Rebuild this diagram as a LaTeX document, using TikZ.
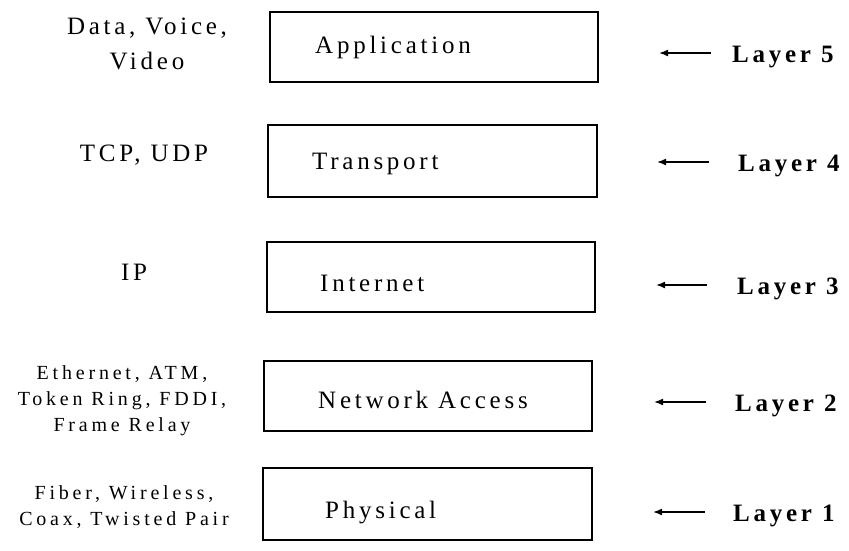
\documentclass[tikz,border=0pt]{standalone}
\usepackage{fontspec}
\setmainfont{Liberation Serif}
\newfontfamily\spaced[LetterSpace=15]{Liberation Serif}
\newfontfamily\spacedsmall[LetterSpace=19]{Liberation Serif}
\usetikzlibrary{arrows.meta}
\begin{document}
\begin{tikzpicture}[x=1pt,y=-1pt,
  layerbox/.style={draw, line width=1.8pt, minimum width=328pt, minimum height=70pt, inner sep=0pt},
  boxtext/.style={anchor=base west, inner sep=0pt, font=\spaced\fontsize{25}{28}\selectfont},
  protobig/.style={align=center, inner sep=0pt, font=\spaced\fontsize{25}{35}\selectfont},
  protosmall/.style={align=center, inner sep=0pt, font=\spacedsmall\fontsize{20}{26}\selectfont},
  layertag/.style={anchor=base west, inner sep=0pt, font=\spaced\bfseries\fontsize{25}{28}\selectfont},
  pointer/.style={line width=1.6pt, -{Latex[length=9pt,width=7pt]}}
]
\useasboundingbox (0,0) rectangle (849,550);

% protocol stack boxes
\node[layerbox] (app)  at (434,47)    {};
\node[layerbox, minimum width=329pt, minimum height=72pt] (trans) at (432.5,161) {};
\node[layerbox] (inet) at (431,277)   {};
\node[layerbox] (net)  at (428,396)   {};
\node[layerbox, minimum width=329pt, minimum height=72pt] (phys) at (427.5,504) {};

% layer names inside the boxes
\node[boxtext] (appT)   at (315,53)  {Application};
\node[boxtext] (transT) at (312,169) {Transport};
\node[boxtext] (inetT)  at (320,291) {Internet};
\node[boxtext] (netT)   at (318,408) {Network Access};
\node[boxtext] (physT)  at (325,518) {Physical};

% example protocols on the left
\node[protobig]   (p5) at (147,44)  {Data, Voice,\\Video};
\node[protobig]   (p4) at (144,155) {TCP, UDP};
\node[protobig]   (p3) at (134,272) {IP};
\node[protosmall] (p2) at (122,401) {Ethernet, ATM,\\Token Ring, FDDI,\\Frame Relay};
\node[protosmall] (p1) at (124,507) {Fiber, Wireless,\\Coax, Twisted Pair};

% layer numbers on the right
\node[layertag] (L5) at (732,62)  {Layer 5};
\node[layertag] (L4) at (738,171) {Layer 4};
\node[layertag] (L3) at (737,294) {Layer 3};
\node[layertag] (L2) at (735,411) {Layer 2};
\node[layertag] (L1) at (733,521) {Layer 1};

% pointers from the layer numbers
\coordinate (s5) at (711,53);  \coordinate (e5) at (659,53);
\coordinate (s4) at (709,162); \coordinate (e4) at (657,162);
\coordinate (s3) at (707,285); \coordinate (e3) at (656,285);
\coordinate (s2) at (706,402); \coordinate (e2) at (654,402);
\coordinate (s1) at (705,512); \coordinate (e1) at (653,512);
\draw[pointer] (s5) -- (e5);
\draw[pointer] (s4) -- (e4);
\draw[pointer] (s3) -- (e3);
\draw[pointer] (s2) -- (e2);
\draw[pointer] (s1) -- (e1);
\end{tikzpicture}
\end{document}
